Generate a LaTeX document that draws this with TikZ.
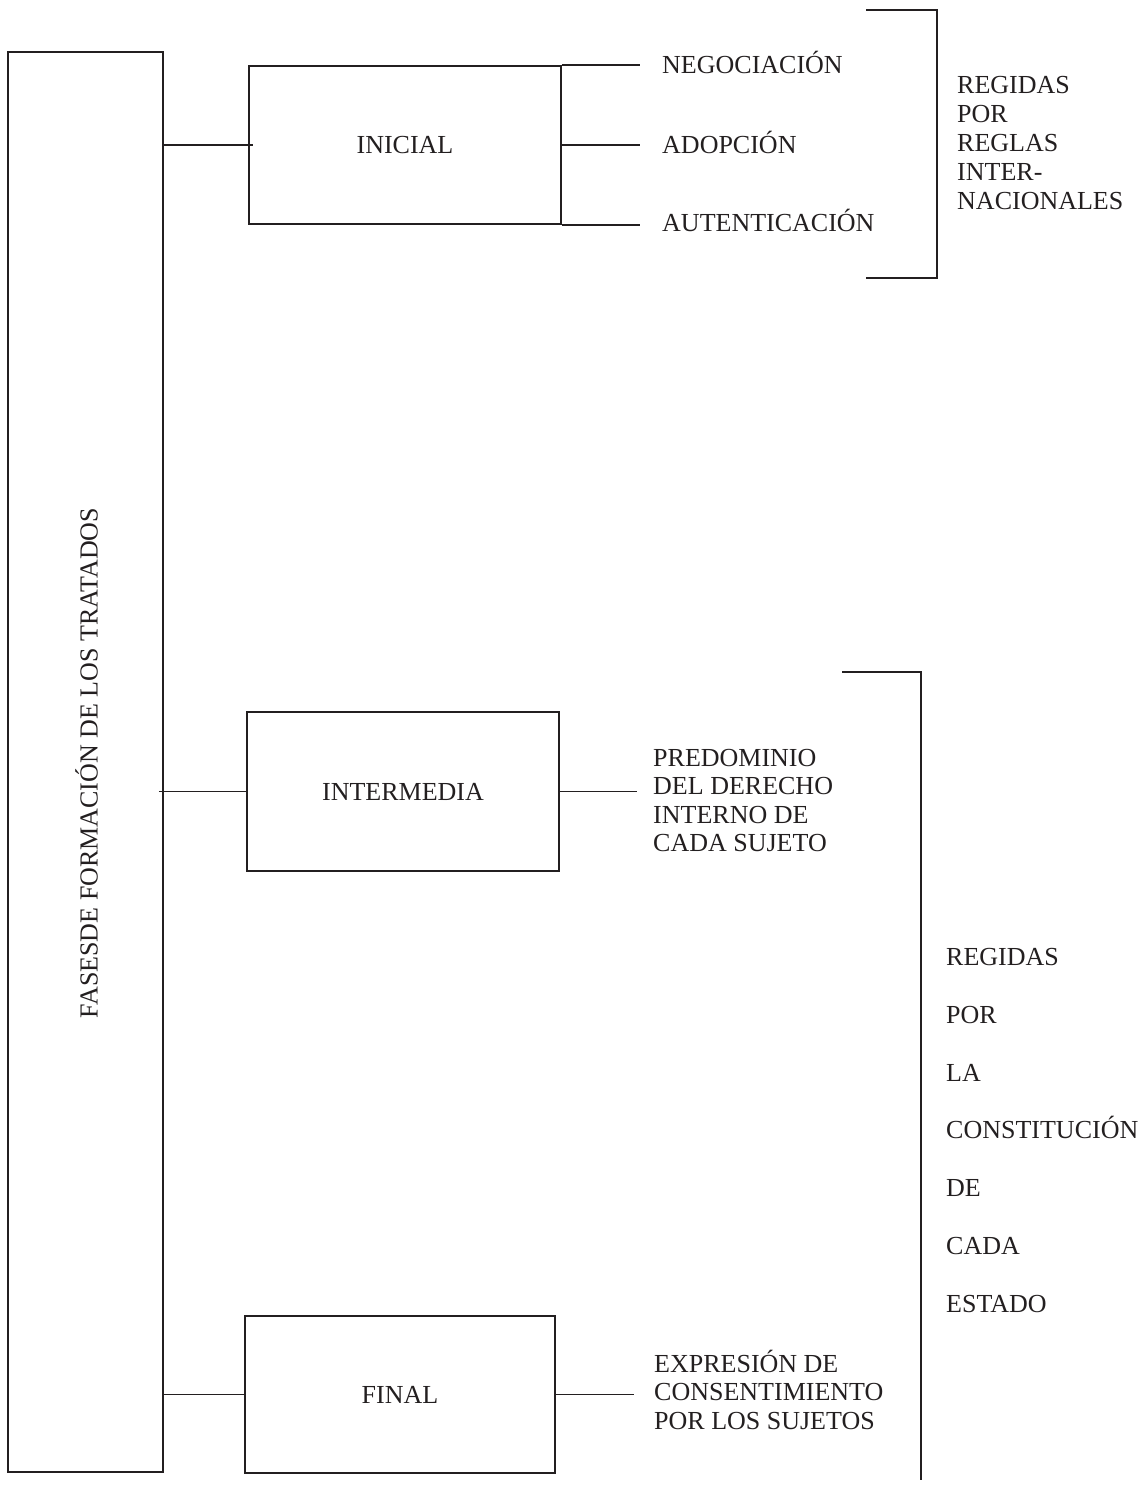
\documentclass[tikz,border=0pt]{standalone}
\usepackage{fontspec}
\setmainfont{Liberation Serif}
\definecolor{ink}{HTML}{231F20}
\begin{document}
\begin{tikzpicture}[x=1pt,y=-1pt]
\tikzset{
  txt/.style={font=\fontsize{26}{29}\selectfont, text=ink, inner sep=0pt},
  phase/.style={draw=ink, line width=1.7pt, inner sep=0pt, txt},
  link/.style={draw=ink, line width=1.7pt},
}
\useasboundingbox (0,0) rectangle (1147,1488);

% main box and title
\node[phase, minimum width=155pt, minimum height=1420pt] (main) at (85.5,762) {};
\node[txt, rotate=90, anchor=base] (title) at (97.5,763) {FASESDE FORMACIÓN DE LOS TRATADOS};

% phase boxes
\node[phase, minimum width=312pt, minimum height=158pt] (ini) at (405,145) {INICIAL};
\node[phase, minimum width=312pt, minimum height=159pt] (mid) at (403,791.5) {INTERMEDIA};
\node[phase, minimum width=310pt, minimum height=157pt] (fin) at (400,1394.5) {FINAL};

% initial stage labels
\node[txt, anchor=base west] (neg) at (662,74) {NEGOCIACIÓN};
\node[txt, anchor=base west] (ado) at (662,153.5) {ADOPCIÓN};
\node[txt, anchor=base west] (aut) at (662,231.5) {AUTENTICACIÓN};
\node[txt, align=left, anchor=west] (reg) at (957,143.5) {REGIDAS\\POR\\REGLAS\\INTER-\\NACIONALES};

% intermediate and final labels
\node[txt, align=left, anchor=west, font=\fontsize{26}{28.3}\selectfont] (pre) at (653,800.5) {PREDOMINIO\\DEL DERECHO\\INTERNO DE\\CADA SUJETO};
\node[txt, align=left, anchor=west, font=\fontsize{26}{28.5}\selectfont] (exp) at (654,1389.5) {EXPRESIÓN DE\\CONSENTIMIENTO\\POR LOS SUJETOS};
\node[txt, align=left, anchor=west, font=\fontsize{26}{57.8}\selectfont] (con) at (946,1130.5) {REGIDAS\\POR\\LA\\CONSTITUCIÓN\\DE\\CADA\\ESTADO};

% end coordinates of connectors
\coordinate (negend) at ([xshift=-22pt]neg.west);
\coordinate (preend) at ([xshift=-16pt]pre.west);
\coordinate (expend) at ([xshift=-20pt]exp.west);

% connectors from main box
\draw[link] (main.east |- ini.west) -- ([xshift=5pt]ini.west);
\draw[link] ([xshift=-5pt]main.east |- mid.west) -- (mid.west);
\draw[link] (main.east |- fin.west) -- (fin.west);

% connectors to labels
\draw[link] (ini.north east) -- (ini.north east -| negend);
\draw[link] (ini.east) -- (ini.east -| negend);
\draw[link] (ini.south east) -- (ini.south east -| negend);
\draw[link] (mid.east) -- (mid.east -| preend);
\draw[link] (fin.east) -- (fin.east -| expend);

% brackets
\draw[link] (866,10) -- (937,10) -- (937,278) -- (866,278);
\draw[link] (842,672) -- (921,672) -- (921,1480);
\end{tikzpicture}
\end{document}
